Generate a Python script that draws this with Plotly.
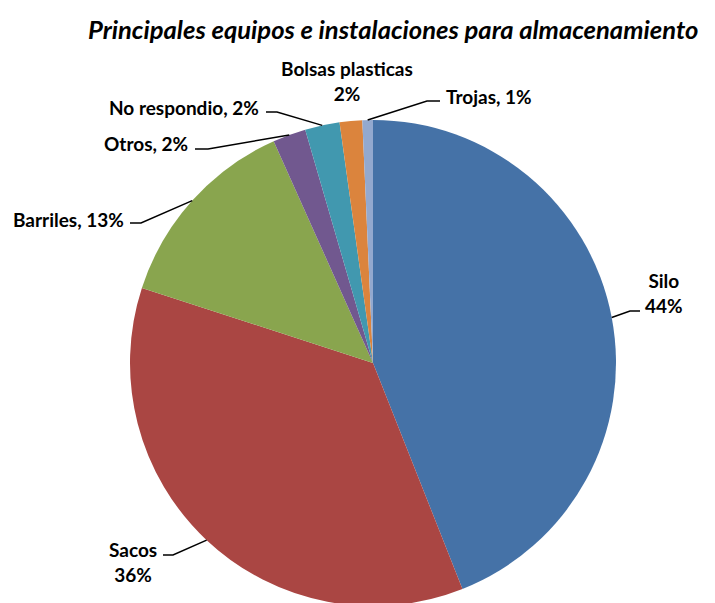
"""Pie chart: principales equipos e instalaciones para almacenamiento"""
import math

import plotly.graph_objects as go

W, H = 715, 603
OFF = 8  # page body margin of the html output

CATEGORIES = ["Silo", "Sacos", "Barriles", "Otros", "No respondio",
              "Bolsas plasticas", "Trojas"]
PERCENTS = [44.0, 36.0, 13.3, 2.2, 2.3, 1.5, 0.7]
COLORS = ["#4572A7", "#AA4643", "#89A54E", "#71588F", "#4198AF",
          "#DB843D", "#93A9CF"]

# pie geometry in screen pixels
CX, CY, R = 373, 363, 243

# label layout: (x, y, xanchor, text format, elbow point, line end)
LABELS = {
    "Silo": (664, 293, "center", "{c}<br>{p}", (630, 311), (640, 311)),
    "Sacos": (133, 562, "center", "{c}<br>{p}", (173, 555), (163, 555)),
    "Barriles": (126, 219, "right", "{c}, {p}", (141, 223), (130, 223)),
    "Otros": (190, 143, "right", "{c}, {p}", (208, 149), (195, 149)),
    "No respondio": (261, 107, "right", "{c}, {p}", (277, 112), (266, 112)),
    "Bolsas plasticas": (347, 81, "center", "{c}<br>{p}", None, None),
    "Trojas": (444, 96, "left", "{c}, {p}", (427, 101), (440, 101)),
}


def px(x, y):
    """screen pixels -> paper coordinates"""
    return (x - OFF) / W, 1 - (y - OFF) / H


x0, y1 = px(CX - R, CY - R)
x1, y0 = px(CX + R, CY + R)

fig = go.Figure(go.Pie(
    labels=CATEGORIES,
    values=PERCENTS,
    marker=dict(colors=COLORS, line=dict(width=0)),
    sort=False,
    direction="clockwise",
    rotation=0,
    textinfo="none",
    hoverinfo="label+percent",
    domain=dict(x=[x0, x1], y=[y0, y1]),
))

annotations = []
shapes = []
total = sum(PERCENTS)
start = 0.0
for cat, val in zip(CATEGORIES, PERCENTS):
    mid = (start + val / 2) / total * 2 * math.pi
    start += val
    lx, ly, anchor, fmt, elbow, end = LABELS[cat]
    text = fmt.format(c=cat, p=f"{round(val)}%")
    ax, ay = px(lx, ly)
    annotations.append(dict(
        x=ax, y=ay, xref="paper", yref="paper", text=text,
        showarrow=False, xanchor=anchor, yanchor="middle", align="center",
        font=dict(family="Lato", size=19, color="#000000", weight="bold"),
    ))
    if elbow is None:
        continue
    ex, ey = CX + R * math.sin(mid), CY - R * math.cos(mid)
    pts = [px(ex, ey), px(*elbow), px(*end)]
    path = "M {} {} L {} {} L {} {}".format(*[c for p in pts for c in p])
    shapes.append(dict(type="path", path=path, xref="paper", yref="paper",
                       line=dict(color="#000000", width=1.5)))

tx, ty = px(88, 30)
fig.update_layout(
    width=W, height=H,
    margin=dict(l=0, r=0, t=0, b=0),
    paper_bgcolor="white",
    showlegend=False,
    title=dict(text="Principales equipos e instalaciones para almacenamiento",
               x=tx, xanchor="left", y=ty, yanchor="middle",
               font=dict(family="Lato", size=25.6, color="#000000",
                         weight="bold", style="italic")),
    annotations=annotations,
    shapes=shapes,
)

fig.write_html("out.html")
